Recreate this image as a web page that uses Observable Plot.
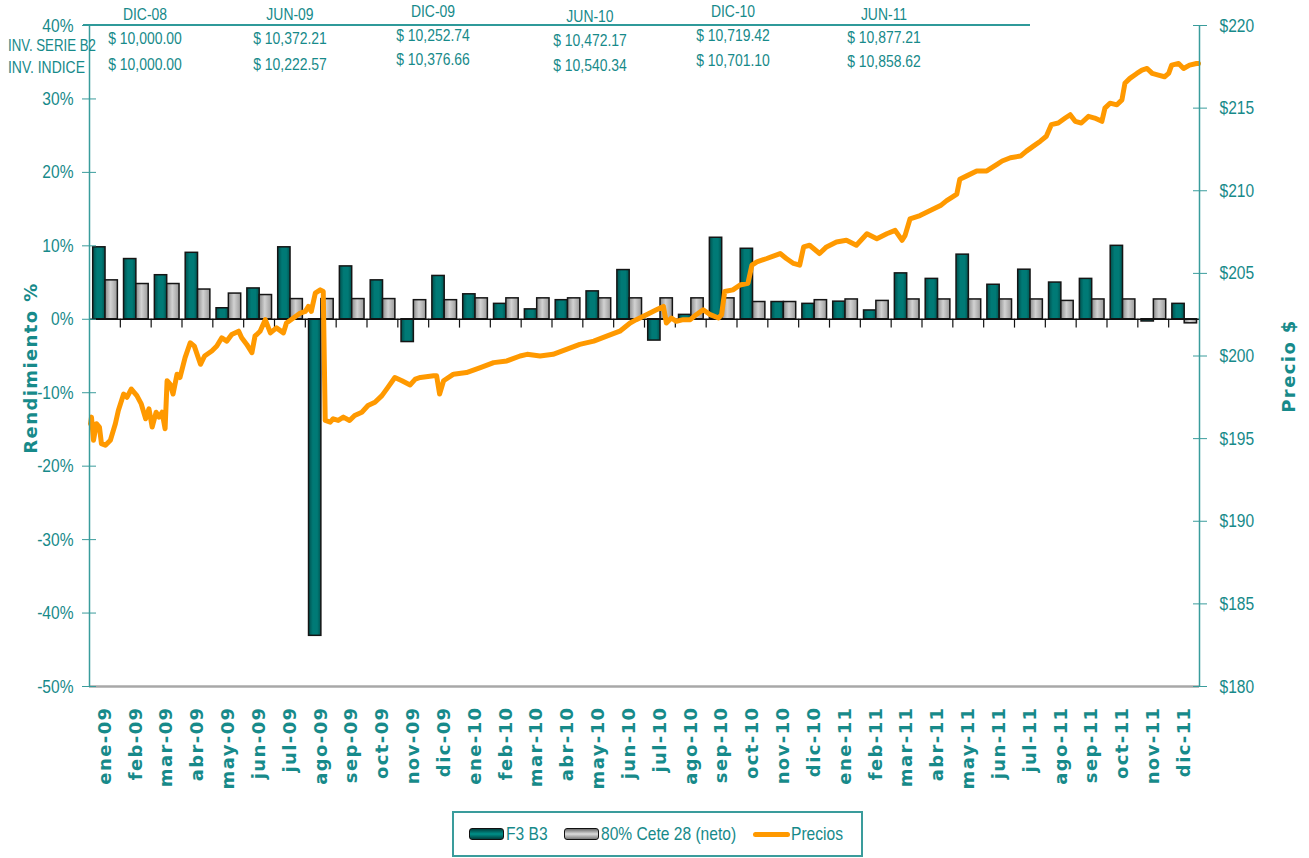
<!DOCTYPE html>
<html><head><meta charset="utf-8">
<script src="https://cdn.jsdelivr.net/npm/d3@7"></script>
<script src="https://cdn.jsdelivr.net/npm/@observablehq/plot@0.6"></script>
<style>
body{margin:0;background:#fff;}
#wrap{position:relative;width:1309px;height:858px;overflow:hidden;font-family:"Liberation Sans",Arial,sans-serif;color:#178a8a;}
#chart{position:absolute;left:0;top:0;}
.h{position:absolute;white-space:nowrap;line-height:1;font-size:17px;}
.c{transform:translateX(-50%) scaleX(0.82);transform-origin:50% 50%;}
.l{transform:scaleX(0.82);transform-origin:0 50%;}
.l2{transform:scaleX(0.78);transform-origin:0 50%;}
#hline{position:absolute;left:83px;top:24px;width:947px;height:2px;background:#2f9a9a;}
#legend{position:absolute;left:452px;top:811px;width:407px;height:42px;border:2px solid #3a9c9c;box-sizing:content-box;}
.sw{position:absolute;top:15px;width:33px;height:10px;border:1px solid #111;border-radius:3px;}
.lt{position:absolute;top:11px;font-size:19px;line-height:1;color:#178a8a;white-space:nowrap;transform:scaleX(0.82);transform-origin:0 50%;}
svg g[aria-label="x-axis tick label"] text{letter-spacing:1.4px;}
</style></head>
<body>
<div id="wrap">
  <div id="chart"></div>
  <div id="hline"></div>
  <div id="header"></div>
  <div id="legend"></div>
</div>
<script>
// ---------- data ----------
const months = ["ene-09","feb-09","mar-09","abr-09","may-09","jun-09","jul-09","ago-09","sep-09","oct-09","nov-09","dic-09",
  "ene-10","feb-10","mar-10","abr-10","may-10","jun-10","jul-10","ago-10","sep-10","oct-10","nov-10","dic-10",
  "ene-11","feb-11","mar-11","abr-11","may-11","jun-11","jul-11","ago-11","sep-11","oct-11","nov-11","dic-11"];
const f3b3 = [9.8, 8.2, 6.0, 9.05, 1.5, 4.2, 9.8, -43.1, 7.2, 5.3, -3.1, 5.9,
  3.4, 2.1, 1.35, 2.6, 3.8, 6.7, -2.9, 0.6, 11.1, 9.6, 2.35, 2.1,
  2.4, 1.2, 6.25, 5.5, 8.8, 4.7, 6.75, 5.0, 5.5, 10.0, -0.3, 2.1];
const cete28 = [5.3, 4.8, 4.8, 4.05, 3.5, 3.3, 2.75, 2.75, 2.75, 2.75, 2.6, 2.6,
  2.85, 2.85, 2.85, 2.85, 2.85, 2.85, 2.85, 2.85, 2.85, 2.35, 2.35, 2.6,
  2.7, 2.5, 2.7, 2.7, 2.7, 2.7, 2.7, 2.5, 2.7, 2.7, 2.7, -0.55];
const priceDates = ["2009-01-02","2009-01-03","2009-01-05","2009-01-08","2009-01-11","2009-01-13","2009-01-17","2009-01-22","2009-01-27","2009-01-30",
  "2009-02-04","2009-02-07","2009-02-11","2009-02-16","2009-02-20","2009-02-24","2009-02-27",
  "2009-03-02","2009-03-06","2009-03-09","2009-03-12","2009-03-15","2009-03-17","2009-03-20","2009-03-23","2009-03-27","2009-03-30",
  "2009-04-04","2009-04-09","2009-04-13","2009-04-19","2009-04-23","2009-04-30",
  "2009-05-05","2009-05-10","2009-05-15","2009-05-20","2009-05-27","2009-05-30",
  "2009-06-04","2009-06-09","2009-06-12","2009-06-17","2009-06-22","2009-06-27",
  "2009-07-03","2009-07-10","2009-07-13","2009-07-20","2009-07-27",
  "2009-08-01","2009-08-04","2009-08-07","2009-08-11","2009-08-16","2009-08-19","2009-08-21","2009-08-26","2009-08-29",
  "2009-09-03","2009-09-08","2009-09-14","2009-09-19","2009-09-26",
  "2009-10-02","2009-10-09","2009-10-16","2009-10-22","2009-10-29",
  "2009-11-05","2009-11-13","2009-11-18","2009-11-23",
  "2009-12-06","2009-12-09","2009-12-12","2009-12-16","2009-12-26",
  "2010-01-08","2010-01-22","2010-02-04","2010-02-16","2010-02-28","2010-03-07","2010-03-20",
  "2010-04-02","2010-04-15","2010-04-28","2010-05-12","2010-05-25","2010-06-07","2010-06-17","2010-06-23",
  "2010-07-03","2010-07-13","2010-07-20","2010-07-23","2010-07-28",
  "2010-08-02","2010-08-09","2010-08-16","2010-08-22","2010-08-29",
  "2010-09-05","2010-09-13","2010-09-16","2010-09-19","2010-09-27",
  "2010-10-04","2010-10-12","2010-10-16","2010-10-21","2010-10-31",
  "2010-11-13","2010-11-19","2010-11-26",
  "2010-12-02","2010-12-06","2010-12-12","2010-12-22","2010-12-29",
  "2011-01-08","2011-01-18","2011-01-28","2011-02-07","2011-02-16","2011-02-25",
  "2011-03-05","2011-03-12","2011-03-15","2011-03-20","2011-03-30",
  "2011-04-09","2011-04-19","2011-04-25","2011-04-30",
  "2011-05-05","2011-05-08","2011-05-15","2011-05-25",
  "2011-06-04","2011-06-14","2011-06-19","2011-06-27",
  "2011-07-07","2011-07-13","2011-07-20","2011-07-27",
  "2011-08-02","2011-08-07","2011-08-14","2011-08-21","2011-08-26","2011-08-31",
  "2011-09-06","2011-09-13","2011-09-19","2011-09-26","2011-09-29",
  "2011-10-04","2011-10-11","2011-10-16","2011-10-19","2011-10-24","2011-10-31",
  "2011-11-05","2011-11-10","2011-11-15","2011-11-21","2011-11-27",
  "2011-12-01","2011-12-04","2011-12-11","2011-12-16","2011-12-22","2011-12-29","2011-12-31"];
const priceValues = [195.9,196.3,194.9,195.9,195.7,194.7,194.6,194.9,195.9,196.7,
  197.7,197.5,198.0,197.6,197.1,196.2,196.8,
  195.7,196.6,196.3,196.6,195.6,198.5,198.3,197.7,198.9,198.7,
  199.9,200.8,200.6,199.5,200.0,200.3,
  200.6,201.1,200.9,201.3,201.5,201.1,
  200.7,200.2,201.2,201.5,202.2,201.4,
  201.7,201.4,202.0,202.3,202.6,
  202.7,203.0,202.7,203.8,204.0,203.9,196.1,196.0,196.2,
  196.1,196.3,196.1,196.4,196.6,
  197.0,197.2,197.6,198.1,198.7,
  198.5,198.25,198.6,198.7,
  198.8,198.8,197.7,198.5,198.9,
  199.0,199.3,199.6,199.7,200.0,200.1,200.0,
  200.1,200.4,200.7,200.9,201.2,201.5,202.0,202.2,
  202.5,202.8,203.0,202.0,202.3,
  202.1,202.2,202.2,202.5,202.8,
  202.5,202.3,202.5,203.9,204.0,
  204.3,204.4,205.5,205.7,205.9,
  206.2,205.9,205.6,
  205.5,206.6,206.7,206.2,206.6,
  206.9,207.0,206.7,207.4,207.1,207.4,
  207.6,207.0,207.3,208.3,208.5,
  208.8,209.1,209.4,209.6,
  209.8,210.7,210.9,211.2,
  211.2,211.6,211.8,212.0,
  212.1,212.4,212.7,213.0,
  213.3,214.0,214.1,214.4,214.6,214.2,
  214.1,214.5,214.4,214.2,215.0,
  215.3,215.2,215.5,216.5,216.8,217.1,
  217.3,217.4,217.1,217.0,216.9,
  217.1,217.6,217.7,217.4,217.6,217.7,217.7];
const pctTicks = [-50,-40,-30,-20,-10,0,10,20,30,40];
const priceTicks = [180,185,190,195,200,205,210,215,220];
const headerCols = ["DIC-08","JUN-09","DIC-09","JUN-10","DIC-10","JUN-11"];
const serieB2 = ["$ 10,000.00","$ 10,372.21","$ 10,252.74","$ 10,472.17","$ 10,719.42","$ 10,877.21"];
const indice = ["$ 10,000.00","$ 10,222.57","$ 10,376.66","$  10,540.34","$ 10,701.10","$  10,858.62"];
const rowLabels = ["INV. SERIE B2","INV. INDICE"];
const legendItems = ["F3 B3","80% Cete 28 (neto)","Precios"];

// ---------- derived ----------
const teal = "#178a8a", axisTeal = "#3a9c9c";
const rows = months.map((m, i) => ({i, m, f3: f3b3[i], cete: cete28[i]}));
const monthIndex = s => { const [Y, M, D] = s.split("-").map(Number); const dim = new Date(Y, M, 0).getDate(); return (Y - 2009) * 12 + (M - 1) + (D - 1) / dim; };
const toPct = p => (p - 180) / 40 * 90 - 50;
const fromPct = v => 180 + (v + 50) / 90 * 40;
const priceRows = priceDates.map((s, k) => ({t: monthIndex(s), p: priceValues[k]}));
const sans = '"Liberation Sans",Arial,sans-serif';

const defsMark = () => {
  const defs = d3.create("svg:defs");
  const g1 = defs.append("linearGradient").attr("id", "gF3").attr("x1", 0).attr("x2", 1).attr("y1", 0).attr("y2", 0);
  [[0,"#00504d"],[0.35,"#007a76"],[0.7,"#007a76"],[1,"#005552"]].forEach(([o,c]) => g1.append("stop").attr("offset", o).attr("stop-color", c));
  const g2 = defs.append("linearGradient").attr("id", "gCete").attr("x1", 0).attr("x2", 1).attr("y1", 0).attr("y2", 0);
  [[0,"#8c8c8c"],[0.45,"#d2d2d2"],[1,"#9a9a9a"]].forEach(([o,c]) => g2.append("stop").attr("offset", o).attr("stop-color", c));
  return defs.node();
};

const chart = Plot.plot({
  width: 1309, height: 800,
  marginLeft: 89, marginRight: 110, marginTop: 25, marginBottom: 114,
  x: {type: "linear", domain: [0, 36], axis: null, label: null},
  y: {domain: [-50, 40], axis: null, label: null},
  style: {background: "transparent", overflow: "visible"},
  marks: [
    defsMark,
    Plot.ruleY([-50], {stroke: "#a8a8a8", strokeWidth: 2.5}),
    Plot.rect(rows, {x1: d => d.i + 0.12, x2: d => d.i + 0.52, y1: 0, y2: "f3", fill: "url(#gF3)", stroke: "#151515", strokeWidth: 1.5}),
    Plot.rect(rows, {x1: d => d.i + 0.52, x2: d => d.i + 0.92, y1: 0, y2: "cete", fill: "url(#gCete)", stroke: "#151515", strokeWidth: 1.5}),
    Plot.ruleY([0], {stroke: "#111", strokeWidth: 1.5}),
    Plot.ruleX(d3.range(1, 36), {x: d => d, y1: 0, y2: -1.2, stroke: "#111", strokeWidth: 1.2}),
    Plot.line(priceRows, {x: "t", y: d => toPct(d.p), stroke: "#ff9900", strokeWidth: 5, strokeLinejoin: "round"}),
    Plot.ruleX([0], {stroke: axisTeal, strokeWidth: 1.5}),
    Plot.ruleX([36], {stroke: axisTeal, strokeWidth: 1.5}),
    Plot.axisY(pctTicks, {anchor: "left", label: null, tickSize: 7, tickPadding: 9, tickFormat: d => d + "%", stroke: axisTeal, fill: teal, fontSize: 19, fontFamily: sans}),
    Plot.axisY(pctTicks, {anchor: "left", label: null, tickSize: 7, dx: 7, tickFormat: () => "", stroke: axisTeal}),
    Plot.axisY(priceTicks.map(toPct), {anchor: "right", label: null, tickSize: 7, tickPadding: 13, tickFormat: d => "$" + Math.round(fromPct(d)), stroke: axisTeal, fill: teal, fontSize: 19, fontFamily: sans}),
    Plot.axisY(priceTicks.map(toPct), {anchor: "right", label: null, tickSize: 7, dx: -7, tickFormat: () => "", stroke: axisTeal}),
    Plot.axisX(d3.range(36).map(i => i + 0.5), {anchor: "bottom", label: null, tickSize: 0, tickRotate: -90, tickPadding: 20, textAnchor: "end", lineAnchor: "middle",
      tickFormat: d => months[Math.floor(d)], fill: teal, fontSize: 18, fontWeight: "bold", fontFamily: "DejaVu Sans"}),
    Plot.text(["Rendimiento %"], {frameAnchor: "left", dx: -58, dy: 12, rotate: -90, textAnchor: "middle", text: d => d, fill: teal, fontSize: 18, fontWeight: "bold", fontFamily: "DejaVu Sans"}),
    Plot.text(["Precio $"], {frameAnchor: "right", dx: 90, dy: 10, rotate: -90, textAnchor: "middle", text: d => d, fill: teal, fontSize: 18, fontWeight: "bold", fontFamily: "DejaVu Sans"})
  ]
});
document.getElementById("chart").appendChild(chart);

// condense the y tick labels (Arial Narrow look) around their anchor point
d3.select(chart).selectAll('g[aria-label="y-axis tick label"] text').each(function () {
  const t = this.getAttribute("transform") || "";
  this.setAttribute("transform", t + " scale(0.82,1)");
});
d3.select(chart).selectAll('g[aria-label="text"] text').style("letter-spacing", "1.4px");

// ---------- header table ----------
const header = document.getElementById("header");
const colX = [145, 290, 433, 590, 733, 884];
const yLab = [6, 6, 3, 8, 3, 6], y1 = [30, 30, 27, 32, 27, 29], y2 = [56, 56, 51, 57, 52, 53];
const add = (txt, cls, x, y) => { const d = document.createElement("div"); d.className = "h " + cls; d.textContent = txt; d.style.left = x + "px"; d.style.top = y + "px"; header.appendChild(d); return d; };
headerCols.forEach((t, k) => {
  add(t, "c", colX[k], yLab[k]);
  add(serieB2[k], "c", colX[k], y1[k]);
  add(indice[k], "c", colX[k], y2[k]);
});
add(rowLabels[0], "l2", 8, 37);
add(rowLabels[1], "l", 8, 59);

// ---------- legend ----------
const legend = document.getElementById("legend");
const lx = [15, 110, 299], tx = [52, 147, 337];
legendItems.forEach((t, k) => {
  const s = document.createElement("div");
  s.className = "sw";
  s.style.left = lx[k] + "px";
  if (k === 0) s.style.background = "linear-gradient(to bottom,#00403e,#009089 50%,#00403e)";
  if (k === 1) s.style.background = "linear-gradient(to bottom,#6a6a6a,#dcdcdc 50%,#7a7a7a)";
  if (k === 2) { s.style.background = "#ff9900"; s.style.border = "none"; s.style.height = "5px"; s.style.top = "19px"; s.style.width = "37px"; s.style.borderRadius = "3px"; }
  legend.appendChild(s);
  const l = document.createElement("div");
  l.className = "lt"; l.textContent = t; l.style.left = tx[k] + "px";
  legend.appendChild(l);
});
</script>
</body></html>
